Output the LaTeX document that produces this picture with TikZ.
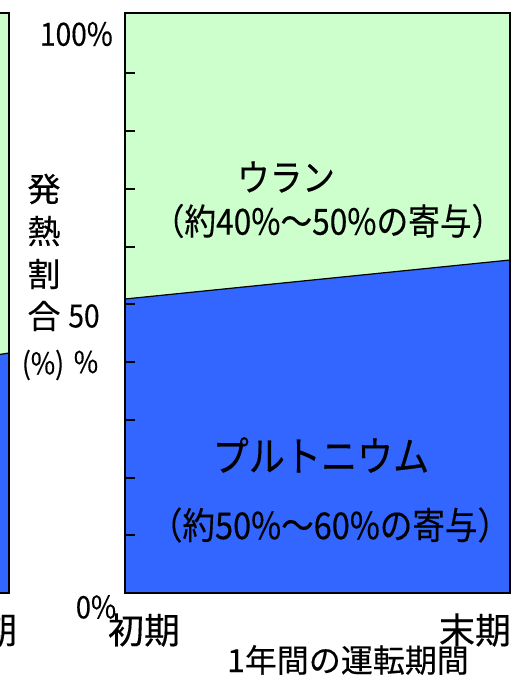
\documentclass[tikz,border=0pt]{standalone}
\usepackage{fontspec}
\setmainfont[FakeBold=0.3,AutoFakeBold=0]{Noto Sans CJK JP}
\newfontfamily\narrowjp[FakeStretch=0.88,FakeBold=0.3]{Noto Sans CJK JP}
\definecolor{uranfill}{HTML}{CCFFCC}
\definecolor{plufill}{HTML}{3366FF}
\tikzset{
  lbl/.style={font=\fontsize{#1}{#1}\selectfont, inner sep=0pt},
  nlbl/.style={font=\narrowjp\fontsize{#1}{#1}\selectfont, inner sep=0pt},
}
\begin{document}
\begin{tikzpicture}[x=1pt,y=-1pt]
	\useasboundingbox (0,0) rectangle (524,678);
	% neighbouring chart, cut off at the left edge
	\begin{scope}
		\clip (0,0) rectangle (524,678);
		\fill[uranfill] (-100,13) rectangle (9,593);
		\fill[plufill] (-100,370) -- (9,353) -- (9,593) -- (-100,593) -- cycle;
		\draw[line width=1.2pt] (-100,370) -- (9,353);
		\draw[line width=2pt] (-100,13) rectangle (9,593);
		\node[lbl=36] (kiprev) at (-1,630) {期};
	\end{scope}
	%
	\fill[uranfill] (125,13) rectangle (510,593);
	\fill[plufill] (125,299) -- (510,260) -- (510,593) -- (125,593) -- cycle;
	\draw[line width=1.2pt] (125,299) -- (510,260);
	\foreach \k in {1,...,9}
	{	\draw[line width=2pt] (125,{593-57.75*\k}) -- ++(10,0);
	}
	\draw[line width=2pt] (125,13) rectangle (510,593);
	%
	\node[nlbl=37] (uran)  at (286,177) {ウラン};
	\node[nlbl=36] (uranp) at (328,221) {（約40\%〜50\%の寄与）};
	\node[nlbl=41] (plu)   at (321,455) {プルトニウム};
	\node[nlbl=37] (plup)  at (330,525) {（約50\%〜60\%の寄与）};
	%
	\node[nlbl=32, anchor=east] (t100) at (113,34) {100\%};
	\node[nlbl=32] (t50)  at (84,316) {50};
	\node[nlbl=30] (t50p) at (86,362) {\%};
	\node[nlbl=31] (t0)   at (96,607) {0\%};
	%
	\def\vlabel {発/189, 熱/231, 割/274, 合/316}  % vertical axis title
	\foreach \ch/\y in \vlabel
	{	\node[lbl=33] (v\y) at (44,\y) {\ch};
	}
	\node[nlbl=30] (unit) at (43,365) {(\%)};
	%
	\node[lbl=36] (start) at (144,630) {初期};
	\node[lbl=36] (end)   at (475,630) {末期};
	\node[lbl=32] (xname) at (348,660) {1年間の運転期間};
\end{tikzpicture}
\end{document}
